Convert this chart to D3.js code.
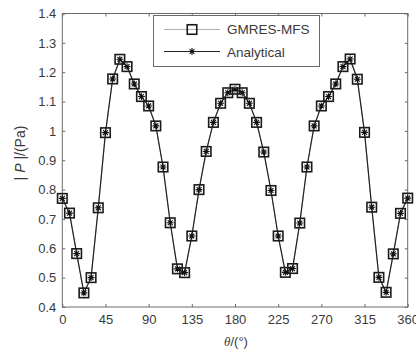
<!DOCTYPE html>
<html>
<head>
<meta charset="utf-8">
<script src="https://cdn.jsdelivr.net/npm/d3@7"></script>
<style>
  html, body { margin: 0; padding: 0; background: #fff; }
  svg { display: block; font-family: "Liberation Sans", Arial, sans-serif; }
</style>
</head>
<body>
<svg id="chart" width="416" height="351"></svg>
<script>
// Angle (degrees)
const angles = [0, 7.5, 15, 22.5, 30, 37.5, 45, 52.5, 60, 67.5, 75, 82.5, 90, 97.5, 105, 112.5,
  120, 127.5, 135, 142.5, 150, 157.5, 165, 172.5, 180, 187.5, 195, 202.5, 210, 217.5, 225, 232.5,
  240, 247.5, 255, 262.5, 270, 277.5, 285, 292.5, 300, 307.5, 315, 322.5, 330, 337.5, 345, 352.5, 360];
// |P| (Pa), GMRES-MFS
const gmresValues = [0.770, 0.720, 0.582, 0.448, 0.500, 0.738, 0.994, 1.177, 1.244, 1.219, 1.160, 1.117,
  1.085, 1.017, 0.877, 0.687, 0.530, 0.517, 0.642, 0.800, 0.930, 1.029, 1.094, 1.130, 1.142,
  1.130, 1.094, 1.029, 0.928, 0.797, 0.642, 0.518, 0.531, 0.686, 0.877, 1.017, 1.085, 1.117,
  1.160, 1.219, 1.245, 1.176, 0.995, 0.740, 0.501, 0.450, 0.581, 0.719, 0.771];
// |P| (Pa), Analytical
const analyticalValues = [0.770, 0.720, 0.582, 0.448, 0.500, 0.738, 0.994, 1.177, 1.244, 1.219, 1.160, 1.117,
  1.085, 1.017, 0.877, 0.687, 0.530, 0.517, 0.642, 0.800, 0.930, 1.029, 1.094, 1.130, 1.142,
  1.130, 1.094, 1.029, 0.928, 0.797, 0.642, 0.518, 0.531, 0.686, 0.877, 1.017, 1.085, 1.117,
  1.160, 1.219, 1.245, 1.176, 0.995, 0.740, 0.501, 0.450, 0.581, 0.719, 0.771];
const xTicks = [0, 45, 90, 135, 180, 225, 270, 315, 360];
const yTicks = [0.4, 0.5, 0.6, 0.7, 0.8, 0.9, 1, 1.1, 1.2, 1.3, 1.4];
const seriesNames = ["GMRES-MFS", "Analytical"];

const svg = d3.select("#chart");
const L = 62.3, R = 407.7, T = 13.5, B = 307;
const x = d3.scaleLinear().domain([0, 360]).range([L, R]);
const y = d3.scaleLinear().domain([0.4, 1.4]).range([B, T]);
const axisColor = "#6a6a6a";
const textColor = "#3a3a3a";

// Axes with inward ticks
function styleAxis(g) {
  g.select(".domain").remove();
  g.selectAll(".tick line").attr("stroke", axisColor);
  g.selectAll(".tick text").attr("fill", textColor).style("font-size", "13px")
    .style("font-family", "'Liberation Sans', Arial, sans-serif");
}
svg.append("g").attr("transform", `translate(0,${B})`)
  .call(d3.axisBottom(x).tickValues(xTicks).tickSizeInner(-3).tickSizeOuter(0).tickPadding(8).tickFormat(d3.format("d")))
  .call(styleAxis);
svg.append("g").attr("transform", `translate(0,${T})`)
  .call(d3.axisTop(x).tickValues(xTicks).tickSizeInner(-3).tickSizeOuter(0).tickFormat(""))
  .call(styleAxis);
svg.append("g").attr("transform", `translate(${L},0)`)
  .call(d3.axisLeft(y).tickValues(yTicks).tickSizeInner(-3).tickSizeOuter(0).tickPadding(6).tickFormat(d => d3.format("")(d)))
  .call(styleAxis);
svg.append("g").attr("transform", `translate(${R},0)`)
  .call(d3.axisRight(y).tickValues(yTicks).tickSizeInner(-3).tickSizeOuter(0).tickFormat(""))
  .call(styleAxis);

// Box
svg.append("rect").attr("x", L).attr("y", T).attr("width", R - L).attr("height", B - T)
  .attr("fill", "none").attr("stroke", axisColor).attr("stroke-width", 1);

const line = d3.line().x(d => x(d[0])).y(d => y(d[1]));
const gData = angles.map((a, i) => [a, gmresValues[i]]);
const aData = angles.map((a, i) => [a, analyticalValues[i]]);

// GMRES-MFS line
svg.append("path").attr("d", line(gData)).attr("fill", "none").attr("stroke", "#b0b0b0").attr("stroke-width", 1);
// Analytical line
svg.append("path").attr("d", line(aData)).attr("fill", "none").attr("stroke", "#222").attr("stroke-width", 1.2);

const sq = 9.5;
function square(g, cx, cy) {
  g.append("rect").attr("x", cx - sq / 2).attr("y", cy - sq / 2).attr("width", sq).attr("height", sq)
    .attr("fill", "none").attr("stroke", "#1a1a1a").attr("stroke-width", 1.6);
}
function star(g, cx, cy) {
  const s = 3.4, d = s * 0.72;
  const p = `M${cx - s},${cy}L${cx + s},${cy}M${cx},${cy - s}L${cx},${cy + s}` +
    `M${cx - d},${cy - d}L${cx + d},${cy + d}M${cx - d},${cy + d}L${cx + d},${cy - d}`;
  g.append("path").attr("d", p).attr("stroke", "#111").attr("stroke-width", 1.1).attr("fill", "none");
}
const mg = svg.append("g");
gData.forEach(d => square(mg, x(d[0]), y(d[1])));
aData.forEach(d => star(mg, x(d[0]), y(d[1])));

// Legend
const lg = svg.append("g");
lg.append("rect").attr("x", 153.5).attr("y", 15.5).attr("width", 166).attr("height", 51)
  .attr("fill", "#fff").attr("stroke", axisColor).attr("stroke-width", 1);
lg.append("line").attr("x1", 164).attr("x2", 220).attr("y1", 29.5).attr("y2", 29.5).attr("stroke", "#b0b0b0").attr("stroke-width", 1);
square(lg, 192, 29.5);
lg.append("line").attr("x1", 164).attr("x2", 220).attr("y1", 51.5).attr("y2", 51.5).attr("stroke", "#222").attr("stroke-width", 1.2);
star(lg, 192, 51.5);
lg.append("text").attr("x", 227).attr("y", 34).attr("fill", textColor).style("font-size", "13.5px").text(seriesNames[0]);
lg.append("text").attr("x", 227).attr("y", 56.5).attr("fill", textColor).style("font-size", "13.5px").text(seriesNames[1]);

// Axis titles
const xt = svg.append("text").attr("x", 236).attr("y", 346).attr("text-anchor", "middle")
  .attr("fill", textColor).style("font-size", "13px");
xt.append("tspan").style("font-style", "italic").style("font-family", "'Liberation Serif', serif").text("θ");
xt.append("tspan").text("/(°)");

const yt = svg.append("text").attr("transform", `translate(25,153) rotate(-90)`).attr("text-anchor", "middle")
  .attr("fill", textColor).style("font-size", "14px");
yt.append("tspan").text("| ");
yt.append("tspan").style("font-style", "italic").text("P");
yt.append("tspan").text(" |/(Pa)");
</script>
</body>
</html>
